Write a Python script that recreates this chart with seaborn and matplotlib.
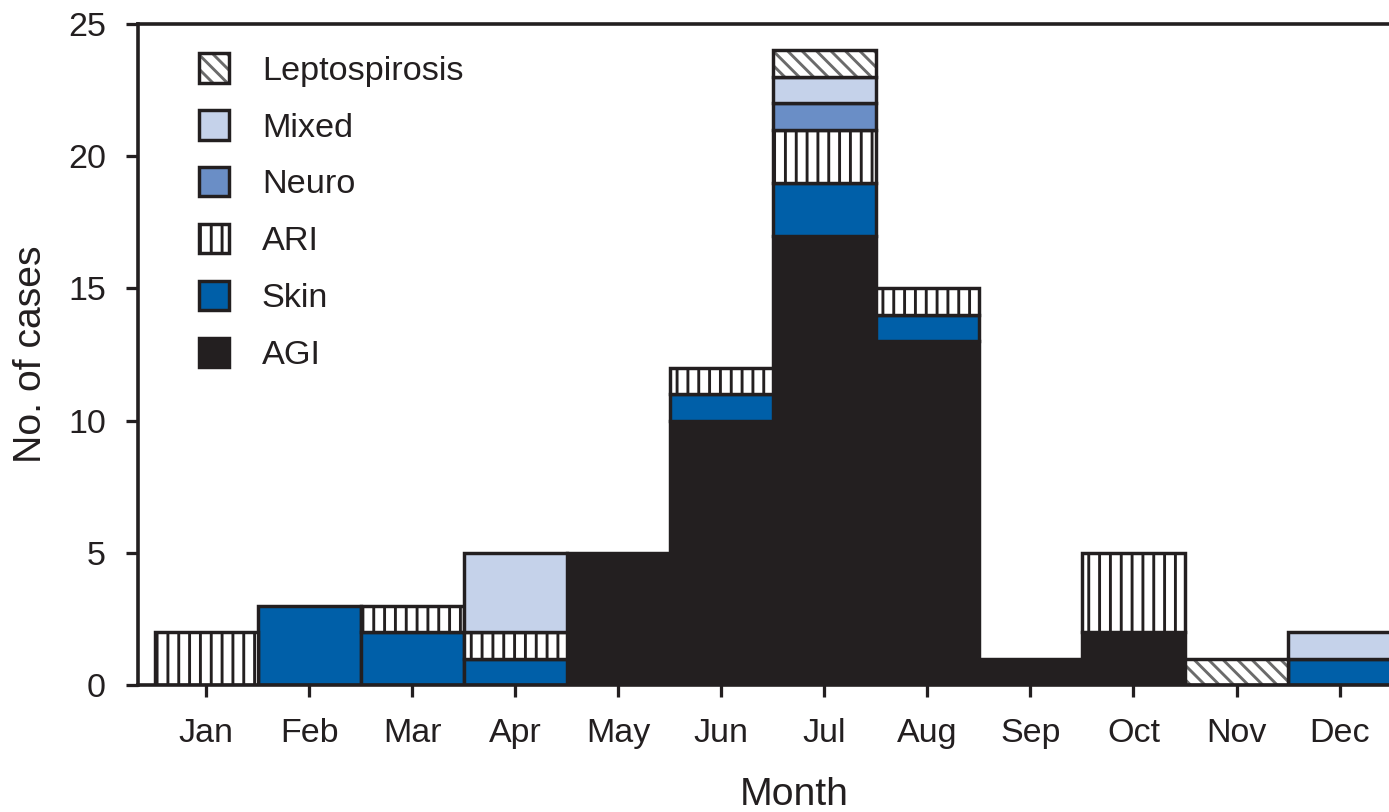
import numpy as np
import matplotlib.pyplot as plt
import matplotlib.patches as mpatches
import seaborn as sns

# Data (cases per month by syndrome)
months = ["Jan", "Feb", "Mar", "Apr", "May", "Jun",
          "Jul", "Aug", "Sep", "Oct", "Nov", "Dec"]
agi = [0, 0, 0, 0, 5, 10, 17, 13, 1, 2, 0, 0]
skin = [0, 3, 2, 1, 0, 1, 2, 1, 0, 0, 0, 1]
ari = [2, 0, 1, 1, 0, 1, 2, 1, 0, 3, 0, 0]
neuro = [0, 0, 0, 0, 0, 0, 1, 0, 0, 0, 0, 0]
mixed = [0, 0, 0, 3, 0, 0, 1, 0, 0, 0, 0, 1]
lepto = [0, 0, 0, 0, 0, 0, 1, 0, 0, 0, 1, 0]
y_ticks = [0, 5, 10, 15, 20, 25]

DPI = 130
EDGE = "#231f20"
LEPTO_HATCH = (0.42, 0.42, 0.42, 1.0)

# bottom -> top
layers = [
    ("AGI", agi, EDGE, None),
    ("Skin", skin, "#005fa8", None),
    ("ARI", ari, "white", "||"),
    ("Neuro", neuro, "#6a8ec6", None),
    ("Mixed", mixed, "#c5d2ea", None),
    ("Leptospirosis", lepto, "white", "\\\\\\"),
]

sns.set_theme(style="ticks")
plt.rcParams["font.family"] = ["Liberation Sans", "DejaVu Sans"]
plt.rcParams["hatch.linewidth"] = 1.6
plt.rcParams["text.color"] = EDGE
plt.rcParams["axes.labelcolor"] = EDGE

fig = plt.figure(figsize=(1389 / DPI, 812 / DPI), dpi=DPI)
ax = fig.add_axes([138 / 1389, 127 / 812, 1251 / 1389, 661 / 812])

bottom = np.zeros(len(months))
for name, vals, fc, hatch in layers:
    n0 = len(ax.patches)
    sns.barplot(x=months, y=vals, order=months, bottom=bottom, width=1,
                color=fc, saturation=1, edgecolor=EDGE, linewidth=1.9,
                hatch=hatch, errorbar=None, ax=ax)
    for p, v in zip(ax.patches[n0:], vals):
        if v == 0:
            p.set_visible(False)
        if name == "Leptospirosis":
            p._hatch_color = LEPTO_HATCH
    bottom += np.array(vals)

ax.set_xlim(-0.661, 11.48)
ax.set_ylim(0, 25)
ax.set_yticks(y_ticks)

for s in ["left", "top", "bottom"]:
    ax.spines[s].set_color(EDGE)
    ax.spines[s].set_linewidth(2.0)
ax.spines["right"].set_visible(False)

ax.tick_params(axis="both", direction="out", length=6.8, width=1.8,
               color=EDGE, labelcolor=EDGE, labelsize=18.8)
ax.tick_params(axis="y", pad=11)
ax.tick_params(axis="x", pad=11.5)

ax.set_xlabel("Month", fontsize=21.7)
ax.set_ylabel("No. of cases", fontsize=21.7)
ax.xaxis.set_label_coords((794 - 138) / 1251, (685 - 777) / 661)
ax.yaxis.set_label_coords((49 - 138) / 1251, 0.5)

# legend, top entry first
handles = []
for name, vals, fc, hatch in layers[::-1]:
    h = mpatches.Patch(facecolor=fc, edgecolor=EDGE, hatch=hatch,
                       linewidth=1.9, label=name)
    if name == "Leptospirosis":
        h._hatch_color = LEPTO_HATCH
    handles.append(h)
ax.legend(handles=handles, loc="upper left", frameon=False,
          bbox_to_anchor=((199 - 138) / 1251, (685 - 53) / 661),
          borderaxespad=0, borderpad=0, fontsize=19,
          handlelength=0.88, handleheight=0.95, handletextpad=0.95,
          labelspacing=0.68)

fig.savefig("out.png", dpi=DPI)
